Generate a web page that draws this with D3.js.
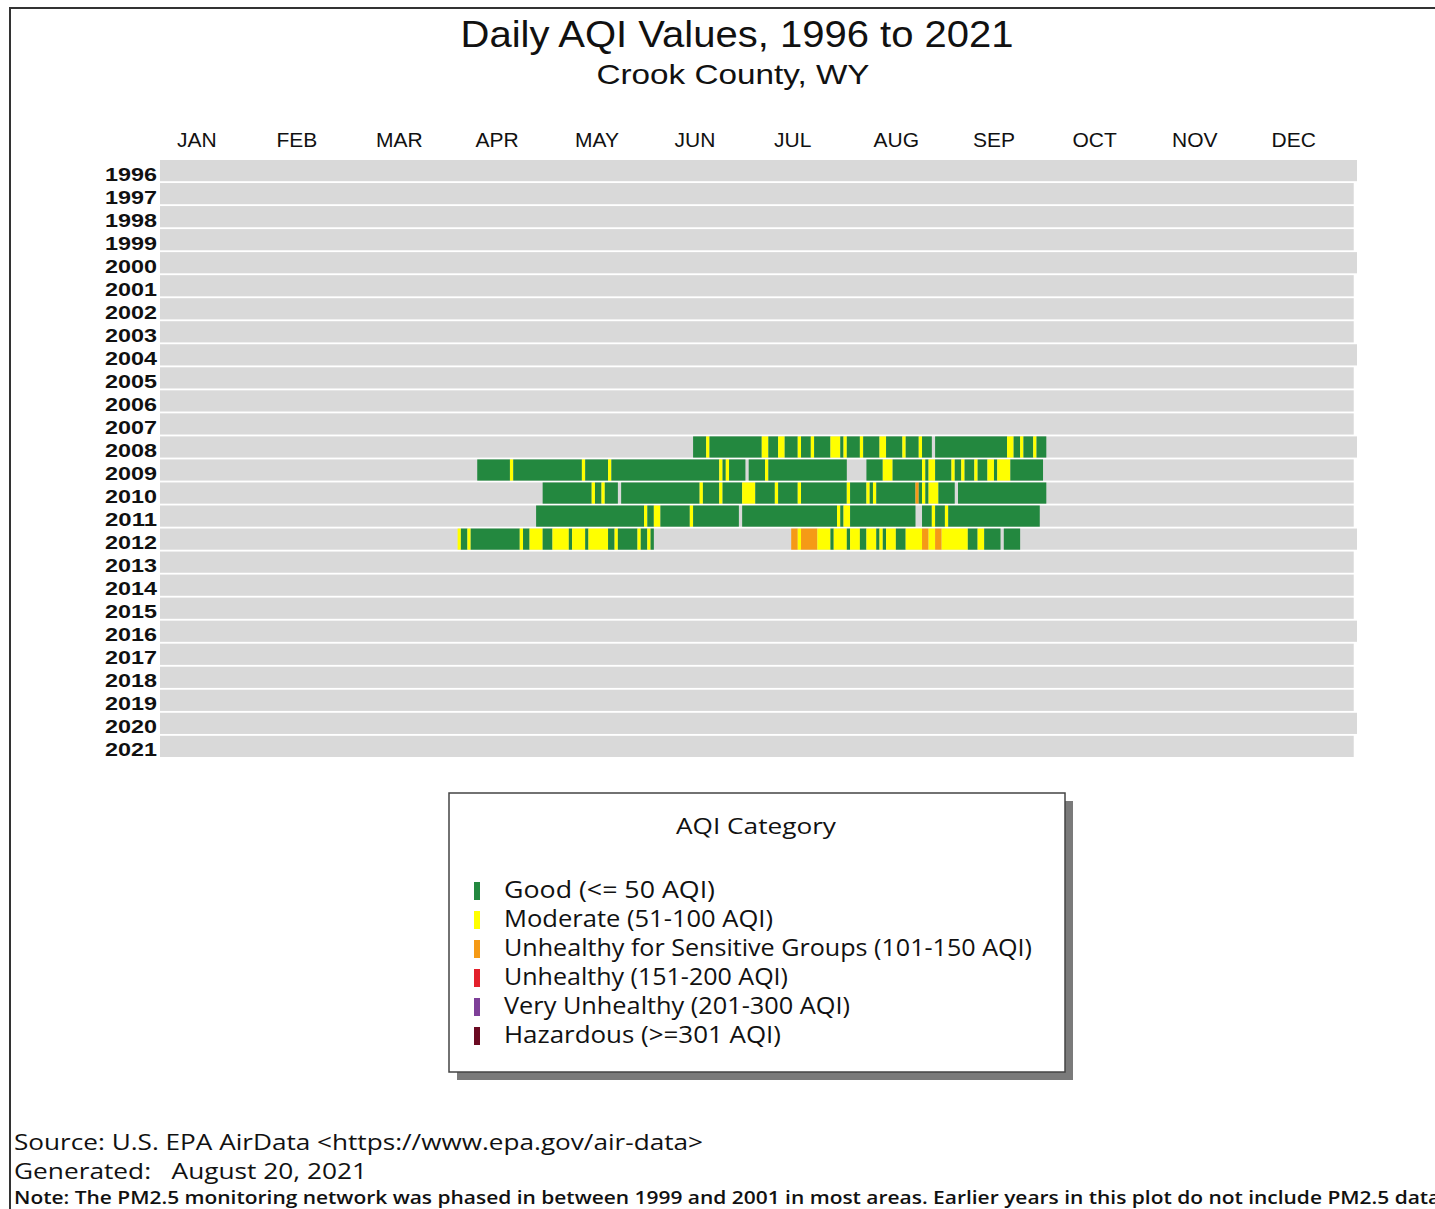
<!DOCTYPE html>
<html>
<head>
<meta charset="utf-8">
<script src="https://cdn.jsdelivr.net/npm/d3@7"></script>
<style>
  body { margin: 0; background: #fff; }
  text { fill: #111; }
</style>
</head>
<body>
<div id="wrapper"></div>
<script>
// 1. Data

const years = d3.range(1996, 2022)
const months = ["JAN", "FEB", "MAR", "APR", "MAY", "JUN", "JUL", "AUG", "SEP", "OCT", "NOV", "DEC"]
const categories = ["Good", "Moderate", "USG", "Unhealthy", "Very Unhealthy", "Hazardous"]
const legendLabels = [
  "Good (<= 50 AQI)",
  "Moderate (51-100 AQI)",
  "Unhealthy for Sensitive Groups (101-150 AQI)",
  "Unhealthy (151-200 AQI)",
  "Very Unhealthy (201-300 AQI)",
  "Hazardous (>=301 AQI)",
]

// runs of days: [first day of year (0-based), last day, category]
const G = "Good", M = "Moderate", U = "USG"
const runs2008 = [
  [163,166,G],[167,167,M],[168,183,G],[184,185,M],[186,188,G],[189,190,M],[191,194,G],[195,195,M],
  [196,198,G],[199,199,M],[200,204,G],[205,207,M],[208,208,G],[209,209,M],[210,213,G],[214,214,M],
  [215,219,G],[220,221,M],[222,226,G],[227,227,M],[228,231,G],[232,232,M],[233,235,G],[237,258,G],
  [259,260,M],[261,262,G],[263,263,M],[264,266,G],[267,267,M],[268,270,G],
]
const runs2009 = [
  [97,106,G],[107,107,M],[108,128,G],[129,129,M],[130,136,G],[137,137,M],[138,170,G],[171,171,M],
  [172,172,G],[173,173,M],[174,178,G],[180,184,G],[185,185,M],[186,209,G],[216,220,G],[221,223,M],
  [224,232,G],[233,233,M],[234,234,G],[235,236,M],[237,241,G],[242,242,M],[243,244,G],[245,245,M],
  [246,248,G],[249,249,M],[250,252,G],[253,254,M],[255,255,G],[256,259,M],[260,269,G],
]
const runs2010 = [
  [117,131,G],[132,132,M],[133,134,G],[135,135,M],[136,139,G],[141,164,G],[165,165,M],[166,170,G],
  [171,171,M],[172,177,G],[178,181,M],[182,187,G],[188,188,M],[189,194,G],[195,195,M],[196,209,G],
  [210,210,M],[211,215,G],[216,216,M],[217,217,G],[218,218,M],[219,230,G],[231,231,U],[232,232,G],
  [233,233,M],[234,234,G],[235,237,M],[238,242,G],[244,270,G],
]
const runs2011 = [
  [115,147,G],[148,148,M],[149,150,G],[151,152,M],[153,161,G],[162,162,M],[163,176,G],[178,206,G],
  [207,207,M],[208,208,G],[209,210,M],[211,230,G],[233,235,G],[236,236,M],[237,239,G],[240,240,M],
  [241,268,G],
]
const runs2012 = [
  [91,91,M],[92,93,G],[94,94,M],[95,109,G],[110,110,M],[111,112,G],[113,116,M],[117,119,G],
  [120,124,M],[125,125,G],[126,129,M],[130,130,G],[131,136,M],[137,138,G],[139,139,M],[140,145,G],
  [146,146,M],[147,148,G],[149,149,M],[150,150,G],
  [193,194,U],[195,195,M],[196,200,U],[201,204,M],[205,205,G],[206,209,M],[210,210,G],[211,213,M],
  [214,215,G],[216,218,M],[219,219,G],[220,220,M],[221,221,G],[222,224,M],[225,227,G],[228,232,M],
  [233,234,U],[235,236,M],[237,238,U],[239,246,M],[247,249,G],[250,251,M],[252,256,G],[258,262,G],
]
const runsByYear = {2008: runs2008, 2009: runs2009, 2010: runs2010, 2011: runs2011, 2012: runs2012}

// 2. Dimensions

const width = 1435
const height = 1209
const plot = {left: 160, right: 1357, top: 160, bottom: 757}

const svg = d3.select("#wrapper").append("svg")
    .attr("width", width)
    .attr("height", height)

// frame
svg.append("rect")
    .attr("x", 10).attr("y", 8)
    .attr("width", 1500).attr("height", 1300)
    .attr("fill", "none")
    .attr("stroke", "#333")
    .attr("stroke-width", 2)

// 3. Scales

const xScale = d3.scaleLinear().domain([0, 366]).range([plot.left, plot.right])
const monthScale = d3.scaleBand().domain(months).range([plot.left, plot.left + 12 * 99.5])
const yScale = d3.scaleBand().domain(years).range([plot.top, plot.bottom]).paddingInner(0.08)
const colorScale = d3.scaleOrdinal()
    .domain(categories)
    .range(["#23883f", "#ffff00", "#f59a16", "#e3202b", "#7e3f98", "#6b0a22"])

const isLeap = y => (y % 4 === 0 && y % 100 !== 0) || y % 400 === 0

// 4. Titles

svg.append("text")
    .attr("x", 737).attr("y", 47)
    .attr("text-anchor", "middle")
    .attr("font-family", "Liberation Sans, Arial, sans-serif")
    .attr("font-size", 37)
    .attr("textLength", 553).attr("lengthAdjust", "spacingAndGlyphs")
    .text("Daily AQI Values, 1996 to 2021")

svg.append("text")
    .attr("x", 733).attr("y", 84)
    .attr("text-anchor", "middle")
    .attr("font-family", "Liberation Sans, Arial, sans-serif")
    .attr("font-size", 28)
    .attr("textLength", 273).attr("lengthAdjust", "spacingAndGlyphs")
    .text("Crook County, WY")

// 5. Month labels

svg.selectAll(".month")
  .data(months)
  .enter().append("text")
    .attr("class", "month")
    .attr("x", d => monthScale(d) + 17)
    .attr("y", 147)
    .attr("font-family", "Liberation Sans, Arial, sans-serif")
    .attr("font-size", 21)
    .text(d => d)

// 6. Rows

const rows = svg.selectAll(".row")
  .data(years)
  .enter().append("g")
    .attr("class", "row")

rows.append("rect")
    .attr("x", xScale(0))
    .attr("y", d => yScale(d))
    .attr("width", d => xScale(isLeap(d) ? 366 : 365) - xScale(0))
    .attr("height", yScale.bandwidth())
    .attr("fill", "#d9d9d9")

rows.append("text")
    .attr("x", 157)
    .attr("y", d => yScale(d) + yScale.bandwidth() / 2 + 10)
    .attr("text-anchor", "end")
    .attr("font-family", "Liberation Sans, Arial, sans-serif")
    .attr("font-size", 19)
    .attr("font-weight", 700)
    .attr("fill", "#222")
    .attr("textLength", 52).attr("lengthAdjust", "spacingAndGlyphs")
    .text(d => d)

rows.selectAll(".day-run")
  .data(d => (runsByYear[d] || []).map(r => ({year: d, start: r[0], end: r[1], cat: r[2]})))
  .enter().append("rect")
    .attr("class", "day-run")
    .attr("x", d => xScale(d.start))
    .attr("y", d => yScale(d.year))
    .attr("width", d => xScale(d.end + 1) - xScale(d.start))
    .attr("height", yScale.bandwidth())
    .attr("fill", d => colorScale(d.cat))

// 7. Legend

const legend = svg.append("g")
legend.append("rect")
    .attr("x", 457).attr("y", 801)
    .attr("width", 616).attr("height", 279)
    .attr("fill", "#7a7a7a")
legend.append("rect")
    .attr("x", 449).attr("y", 793)
    .attr("width", 616).attr("height", 279)
    .attr("fill", "#fff")
    .attr("stroke", "#444")
    .attr("stroke-width", 1.5)

legend.append("text")
    .attr("x", 756).attr("y", 834)
    .attr("text-anchor", "middle")
    .attr("font-family", "Open Sans, sans-serif")
    .attr("font-size", 22)
    .attr("textLength", 160).attr("lengthAdjust", "spacingAndGlyphs")
    .text("AQI Category")

const legendItems = legend.selectAll(".legend-item")
  .data(categories)
  .enter().append("g")
    .attr("class", "legend-item")
    .attr("transform", (d, i) => `translate(0, ${891 + i * 29})`)

legendItems.append("rect")
    .attr("x", 474).attr("y", -9)
    .attr("width", 6).attr("height", 18)
    .attr("fill", d => colorScale(d))

const legendWidths = [211, 269, 528, 284, 346, 277]
legendItems.append("text")
    .attr("x", 504).attr("y", 1)
    .attr("dominant-baseline", "middle")
    .attr("font-family", "Open Sans, sans-serif")
    .attr("font-size", 23)
    .attr("textLength", (d, i) => legendWidths[i]).attr("lengthAdjust", "spacingAndGlyphs")
    .text((d, i) => legendLabels[i])

// 8. Footer

svg.append("text")
    .attr("x", 14).attr("y", 1150)
    .attr("font-family", "Open Sans, sans-serif")
    .attr("font-size", 22)
    .attr("textLength", 689).attr("lengthAdjust", "spacingAndGlyphs")
    .text("Source: U.S. EPA AirData <https://www.epa.gov/air-data>")

svg.append("text")
    .attr("x", 14).attr("y", 1179)
    .attr("font-family", "Open Sans, sans-serif")
    .attr("font-size", 22)
    .attr("textLength", 353).attr("lengthAdjust", "spacingAndGlyphs")
    .attr("xml:space", "preserve")
    .text("Generated:   August 20, 2021")

svg.append("text")
    .attr("x", 14).attr("y", 1204)
    .attr("font-family", "Open Sans, sans-serif")
    .attr("font-size", 18)
    .attr("font-weight", 600)
    .attr("textLength", 1432).attr("lengthAdjust", "spacingAndGlyphs")
    .text("Note: The PM2.5 monitoring network was phased in between 1999 and 2001 in most areas. Earlier years in this plot do not include PM2.5 data.")
</script>
</body>
</html>
